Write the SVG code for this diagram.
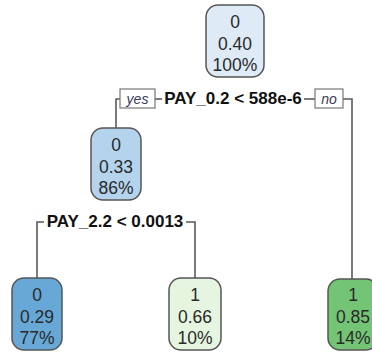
<svg xmlns="http://www.w3.org/2000/svg" width="372" height="352" viewBox="0 0 372 352">
  <style>
    .node rect { stroke: #555; stroke-width: 1.5; }
    .node text { font-family: "Liberation Sans", Arial, sans-serif; font-size: 17.5px; fill: #2a2a2a; text-anchor: middle; }
    .split { font-family: "Liberation Sans", Arial, sans-serif; font-size: 17px; font-weight: bold; fill: #111; }
    .edge { fill: none; stroke: #5a5a5a; stroke-width: 1.6; }
    .tag rect { fill: #fff; stroke: #777; stroke-width: 1.2; }
    .tag text { font-family: "Liberation Sans", Arial, sans-serif; font-size: 14px; font-style: italic; fill: #3a3a5a; text-anchor: middle; }
  </style>
  <rect width="372" height="352" fill="#fff"/>

  <!-- connectors -->
  <g id="connectors">
    <path class="edge" d="M116,128 V99 H120"/>
    <path class="edge" d="M155,99 H162"/>
    <path class="edge" d="M304,99 H315"/>
    <path class="edge" d="M343,99 H352 V280"/>
    <path class="edge" d="M37,280 V222 H44"/>
    <path class="edge" d="M186,222 H195 V278"/>
  </g>

  <!-- split labels -->
  <g id="split-root">
    <text class="split" x="233" y="104" text-anchor="middle">PAY_0.2 &lt; 588e-6</text>
    <g class="tag" id="tag-yes">
      <rect x="120" y="89" width="35" height="19"/>
      <text x="137.5" y="103.5">yes</text>
    </g>
    <g class="tag" id="tag-no">
      <rect x="315" y="89" width="28" height="19"/>
      <text x="329" y="103.5">no</text>
    </g>
  </g>
  <g id="split-node2">
    <text class="split" x="115" y="227" text-anchor="middle">PAY_2.2 &lt; 0.0013</text>
  </g>

  <!-- nodes -->
  <g id="node-root" class="node">
    <rect x="206" y="5" width="58" height="72" rx="12" fill="#deeaf6"/>
    <text x="235" y="28">0</text>
    <text x="235" y="49.5">0.40</text>
    <text x="235" y="71">100%</text>
  </g>
  <g id="node-2" class="node">
    <rect x="91" y="128" width="50" height="72" rx="12" fill="#b4d3ec"/>
    <text x="116" y="151">0</text>
    <text x="116" y="172.5">0.33</text>
    <text x="116" y="194">86%</text>
  </g>
  <g id="leaf-4" class="node">
    <rect x="12" y="278" width="50" height="72" rx="12" fill="#67a8d7"/>
    <text x="37" y="301">0</text>
    <text x="37" y="322.5">0.29</text>
    <text x="37" y="344">77%</text>
  </g>
  <g id="leaf-5" class="node">
    <rect x="169" y="278" width="52" height="72" rx="12" fill="#e6f5df"/>
    <text x="195" y="301">1</text>
    <text x="195" y="322.5">0.66</text>
    <text x="195" y="344">10%</text>
  </g>
  <g id="leaf-3" class="node">
    <rect x="328" y="279" width="50" height="71" rx="12" fill="#74c476"/>
    <text x="353" y="301">1</text>
    <text x="353" y="322.5">0.85</text>
    <text x="353" y="344">14%</text>
  </g>
</svg>
